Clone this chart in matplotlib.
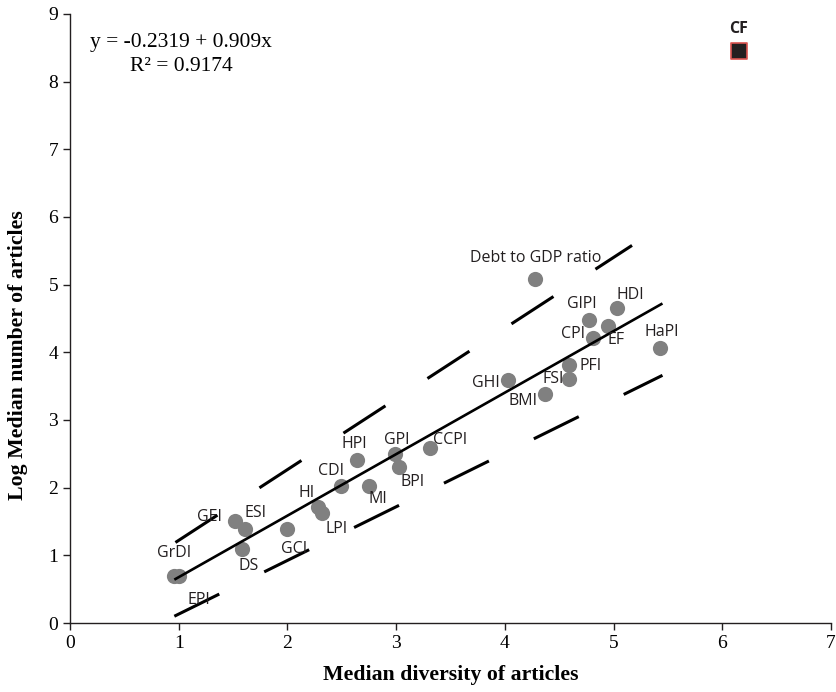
import matplotlib
matplotlib.use("Agg")
import matplotlib.pyplot as plt
import numpy as np

# Data
labels = ["GrDI", "EPI", "GEI", "ESI", "DS", "GCI", "HI", "LPI", "CDI", "HPI", "MI",
          "GPI", "BPI", "CCPI", "GHI", "BMI", "FSI", "PFI", "CPI", "GlPI", "EF", "HDI",
          "HaPI", "Debt to GDP ratio"]
diversity = [0.96, 1.00, 1.52, 1.61, 1.58, 2.00, 2.28, 2.32, 2.49, 2.64, 2.75,
             2.99, 3.03, 3.31, 4.03, 4.37, 4.59, 4.59, 4.81, 4.77, 4.95, 5.03,
             5.43, 4.28]
log_articles = [0.70, 0.70, 1.51, 1.39, 1.10, 1.39, 1.71, 1.62, 2.02, 2.41, 2.02,
                2.50, 2.31, 2.58, 3.59, 3.38, 3.60, 3.82, 4.21, 4.48, 4.39, 4.65,
                4.07, 5.08]
# label offsets in pixels (dx, dy)
label_dx = [0, 20, -26, 10, 7, 7, -11, 14, -10, -3, 9, 2, 13, 20, -22, -22, -16, 22, -20, -7, 8, 14, 1, 0]
label_dy = [23, -24, 4, 16, -17, -20, 14, -16, 15, 16, -13, 14, -15, 8, -3, -7, 0, -1, 4, 16, -14, 13, 16, 21]

outlier_label = "CF"
outlier_x = [6.15]
outlier_y = [8.45]

intercept = -0.2319
slope = 0.909
r2 = 0.9174
fit_x = [0.96, 5.45]

upper_band_x = [0.97, 5.17]
upper_band_y = [1.19, 5.58]
lower_band_x = [0.96, 5.45]
lower_band_y = [0.10, 3.66]

xticks = [0, 1, 2, 3, 4, 5, 6, 7]
yticks = [0, 1, 2, 3, 4, 5, 6, 7, 8, 9]

serif = "Liberation Serif"
sans = "Open Sans"

fig = plt.figure(figsize=(8.37, 6.92), dpi=100)
ax = fig.add_axes([0.0836, 0.0997, 0.9092, 0.8801])

ax.scatter(diversity, log_articles, s=120, color="#808080", zorder=3, linewidths=0)
ax.scatter(outlier_x, outlier_y, s=130, marker="s", color="#231f20",
           edgecolors="#d9534f", linewidths=1.2, zorder=3)

fx = np.array(fit_x)
ax.plot(fx, intercept + slope * fx, color="black", lw=1.9, zorder=4,
        solid_capstyle="butt")
ax.plot(upper_band_x, upper_band_y, color="black", lw=2.2, linestyle=(0, (16.4, 16.4)),
        zorder=4, dash_capstyle="butt")
ax.plot(lower_band_x, lower_band_y, color="black", lw=2.2, linestyle=(0, (16.4, 16.4)),
        zorder=4, dash_capstyle="butt")

for lab, x, y, dx, dy in zip(labels, diversity, log_articles, label_dx, label_dy):
    ax.annotate(lab, (x, y), xytext=(dx, dy), textcoords="offset pixels",
                ha="center", va="center", fontsize=11.5, family=sans, color="#231f20",
                zorder=5)
ax.annotate(outlier_label, (outlier_x[0], outlier_y[0]), xytext=(0, 22),
            textcoords="offset pixels", ha="center", va="center", fontsize=11.5,
            family=sans, fontweight="bold", color="#231f20")

ax.text(0.146, 0.953, f"y = {intercept} + {slope}x", transform=ax.transAxes,
        ha="center", va="center", fontsize=15.5, family=serif)
ax.text(0.146, 0.913, f"R² = {r2}", transform=ax.transAxes,
        ha="center", va="center", fontsize=15.5, family=serif)

ax.set_xlim(0, 7)
ax.set_ylim(0, 9)
ax.set_xticks(xticks)
ax.set_yticks(yticks)
for s in ["top", "right"]:
    ax.spines[s].set_visible(False)
for s in ["left", "bottom"]:
    ax.spines[s].set_linewidth(1.0)
    ax.spines[s].set_color("#231f20")
ax.tick_params(direction="out", length=5, width=1.0, labelsize=14, color="#231f20")
for t in ax.get_xticklabels() + ax.get_yticklabels():
    t.set_family(serif)

ax.set_xlabel("Median diversity of articles", family=serif, fontweight="bold",
              fontsize=15.7)
ax.set_ylabel("Log Median number of articles", family=serif, fontweight="bold",
              fontsize=15.7)
ax.xaxis.set_label_coords((451 - 70) / 761, -(665 - 623) / 609)
ax.yaxis.set_label_coords(-(70 - 28) / 761, (623 - 355) / 609)

fig.savefig("out.png", dpi=100)
